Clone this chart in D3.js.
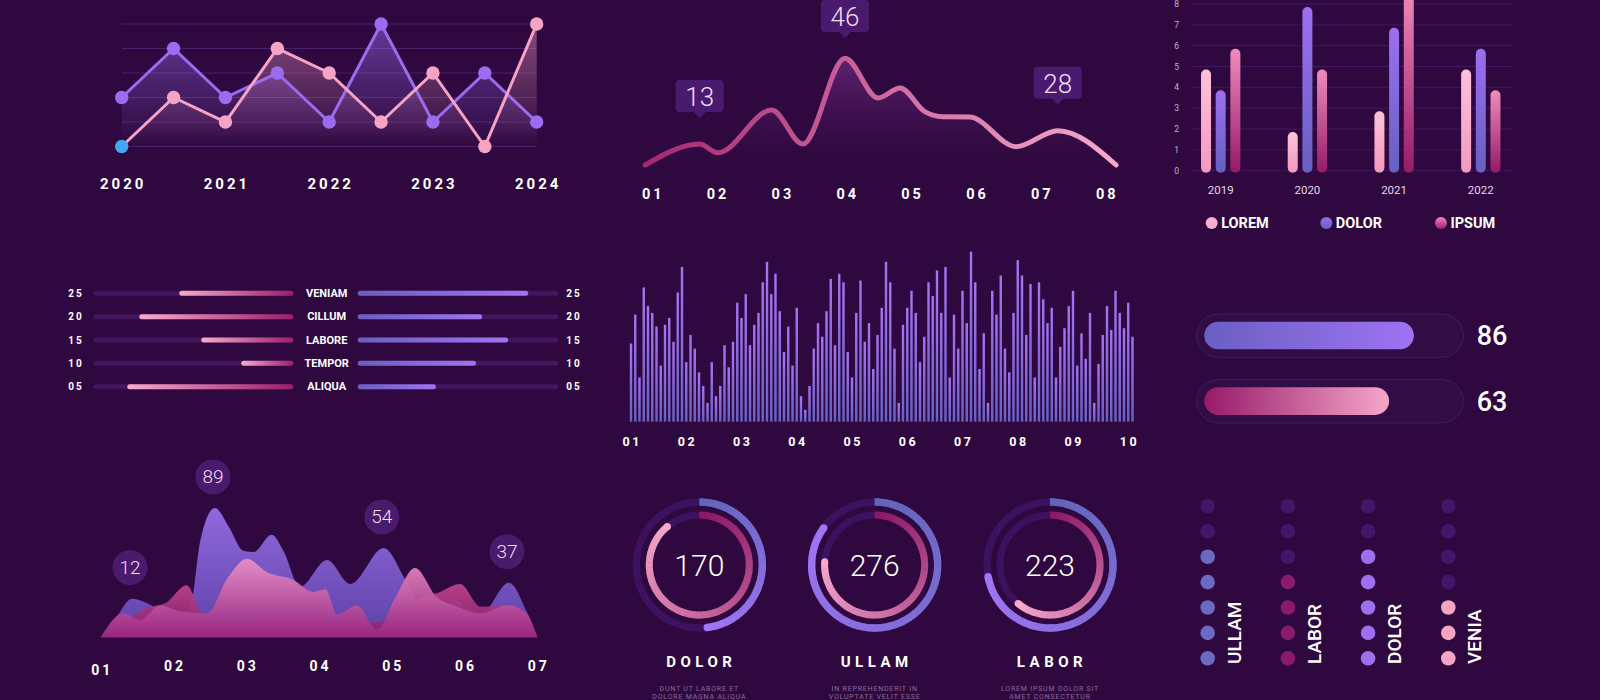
<!DOCTYPE html>
<html>
<head>
<meta charset="utf-8">
<script src="https://cdn.jsdelivr.net/npm/d3@7"></script>
<style>
  body { margin: 0; background: #2e083e; }
  svg { display: block; font-family: Roboto, "Noto Sans", sans-serif; }
</style>
</head>
<body>
<script>
// ---------- data ----------
// top left: two line series, nine steps, year ticks every other step
const lineYears = ["2020", "2021", "2022", "2023", "2024"]
const lineDolor = [2, 4, 2, 3, 1, 5, 1, 3, 1]
const lineLorem = [0, 2, 1, 4, 3, 1, 3, 0, 5]

// top middle: smooth wave
const waveTicks = ["01", "02", "03", "04", "05", "06", "07", "08"]
const waveX = [0.9, 1.74, 2.02, 2.85, 3.33, 3.98, 4.49, 4.83, 5.21, 5.49, 5.9, 6.62, 7.26, 8.16]
const waveY = [0, 9, 5.3, 23.7, 9, 46, 28.9, 33.2, 23, 20.8, 20.7, 7.9, 14.8, 0]
const waveNoteX = [1.74, 3.98, 7.26]
const waveNotes = [13, 46, 28]

// top right: grouped bars
const barYears = ["2019", "2020", "2021", "2022"]
const barSeries = ["LOREM", "DOLOR", "IPSUM"]
const barLorem = [5, 2, 3, 5]
const barDolor = [4, 8, 7, 6]
const barIpsum = [6, 5, 9, 4]

// middle left: two sided bars
const rowNames = ["VENIAM", "CILLUM", "LABORE", "TEMPOR", "ALIQUA"]
const rowTicks = ["25", "20", "15", "10", "05"]
const rowLeft = [57, 77, 46, 26, 83]
const rowRight = [85, 62, 75, 59, 39]

// middle: spectrum bars
const specTicks = ["01", "02", "03", "04", "05", "06", "07", "08", "09", "10"]
const specValues = [
  46, 63, 26, 79, 68, 64, 56, 33, 57, 61,
  47, 76, 91, 35, 51, 43, 29, 21, 11, 35,
  15, 21, 45, 32, 47, 70, 61, 75, 45, 57,
  64, 82, 94, 75, 87, 65, 41, 56, 33, 67,
  15, 7, 21, 43, 58, 50, 65, 84, 45, 87,
  82, 41, 26, 64, 83, 47, 58, 31, 51, 67,
  94, 82, 43, 11, 57, 67, 77, 64, 35, 50,
  82, 74, 89, 64, 91, 26, 63, 43, 77, 58,
  100, 82, 31, 52, 11, 77, 63, 86, 43, 29,
  64, 95, 86, 51, 81, 26, 82, 72, 58, 67,
  26, 44, 55, 68, 77, 33, 52, 37, 64, 11,
  34, 51, 68, 54, 77, 64, 55, 70, 50
]

// middle right: progress
const progValues = [86, 63]

// bottom left: three overlapping areas [step, value]
const areaTicks = ["01", "02", "03", "04", "05", "06", "07"]
const areaBack = [[1, 0], [1.2, 14], [1.43, 29], [1.77, 22], [2.0, 15], [2.23, 23], [2.37, 73], [2.57, 97], [2.76, 83], [2.96, 65], [3.1, 64], [3.35, 77], [3.51, 65], [3.74, 38], [4.11, 58], [4.43, 40], [4.89, 67], [5.19, 43], [5.53, 12], [5.85, 28], [6.22, 17], [6.61, 41], [6.85, 20], [7, 0]]
const areaMid = [[1, 0], [1.4, 14], [1.63, 22], [1.9, 26], [2.18, 39], [2.41, 16], [2.8, 10], [3.5, 12], [4.5, 10], [5.0, 14], [5.4, 30], [5.62, 33], [5.94, 40], [6.22, 23], [6.6, 24], [6.85, 16], [7, 0]]
const areaFront = [[1, 0], [1.31, 18], [1.54, 13], [1.82, 24], [2.05, 20], [2.46, 18], [2.75, 45], [3.01, 59], [3.28, 49], [3.65, 43], [3.92, 34], [4.09, 36], [4.25, 17], [4.52, 24], [4.8, 6], [5.05, 30], [5.32, 52], [5.62, 30], [5.85, 24], [6.22, 18], [6.6, 24], [6.85, 18], [7, 0]]
const areaNoteX = [1.43, 2.57, 4.89, 6.61]
const areaNotes = [12, 89, 54, 37]

// bottom middle: donuts
const donutNames = ["DOLOR", "ULLAM", "LABOR"]
const donutTotals = [170, 276, 223]
const donutOuter = [48, 85, 72]
const donutInner = [89, 76, 61]
const donutCaptions = [
  ["DUNT UT LABORE ET", "DOLORE MAGNA ALIQUA"],
  ["IN REPREHENDERIT IN", "VOLUPTATE VELIT ESSE"],
  ["LOREM IPSUM DOLOR SIT", "AMET CONSECTETUR"]
]

// bottom right: dot columns
const dotNames = ["ULLAM", "LABOR", "DOLOR", "VENIA"]
const dotActive = [5, 4, 5, 3]
const dotRows = 7

// ---------- drawing ----------
const svg = d3.select("body").append("svg").attr("width", 1600).attr("height", 700)
const defs = svg.append("defs")

function grad(id, c0, c1, o0, o1, x1, y1, x2, y2, user) {
  const g = defs.append("linearGradient").attr("id", id)
    .attr("x1", x1).attr("y1", y1).attr("x2", x2).attr("y2", y2)
  if (user) g.attr("gradientUnits", "userSpaceOnUse")
  g.append("stop").attr("offset", 0).attr("stop-color", c0).attr("stop-opacity", o0)
  g.append("stop").attr("offset", 1).attr("stop-color", c1).attr("stop-opacity", o1)
}

function boldLabel(sel, size, ls) {
  return sel.attr("fill", "#fff").attr("font-size", size).attr("font-weight", 700)
    .attr("letter-spacing", ls).attr("text-anchor", "middle").attr("dominant-baseline", "central")
}

// --- top left line chart
{
  const x = d3.scaleLinear().domain([0, lineDolor.length - 1]).range([121.7, 536.7])
  const y = d3.scaleLinear().domain([0, 5]).range([146.5, 24])
  const g = svg.append("g")
  g.selectAll("line").data(y.ticks(5)).join("line")
    .attr("x1", x(0)).attr("x2", x(8)).attr("y1", y).attr("y2", y)
    .attr("stroke", "#4d1f6c").attr("stroke-width", 1)
  grad("tlP", "#9b6cf0", "#9b6cf0", 0.5, 0, 0, y(5), 0, y(0), true)
  grad("tlK", "#f4a0c8", "#f4a0c8", 0.45, 0, 0, y(5), 0, y(0), true)
  const area = d3.area().x((d, i) => x(i)).y0(y(0)).y1(d => y(d))
  const line = d3.line().x((d, i) => x(i)).y(d => y(d))
  g.append("path").attr("d", area(lineDolor)).attr("fill", "url(#tlP)")
  g.append("path").attr("d", area(lineLorem)).attr("fill", "url(#tlK)")
  g.append("path").attr("d", line(lineDolor)).attr("fill", "none").attr("stroke", "#9b6cf0").attr("stroke-width", 3)
  g.append("path").attr("d", line(lineLorem)).attr("fill", "none").attr("stroke", "#f6a3c6").attr("stroke-width", 3)
  g.selectAll("circle.d").data(lineDolor).join("circle")
    .attr("cx", (d, i) => x(i)).attr("cy", y).attr("r", 6.7).attr("fill", "#9b6cf0")
  g.selectAll("circle.l").data(lineLorem).join("circle")
    .attr("cx", (d, i) => x(i)).attr("cy", y).attr("r", 6.7)
    .attr("fill", (d, i) => i === 0 ? "#3fa8ef" : "#f6a3c6")
  boldLabel(g.selectAll("text").data(lineYears).join("text"), 15, 3)
    .attr("x", (d, i) => x(i * 2) + 1.5).attr("y", 184).text(d => d)
}

// --- top middle wave
{
  const x = d3.scaleLinear().domain([1, 8]).range([651.7, 1105.7])
  const y = d3.scaleLinear().domain([0, 46]).range([165, 58.3])
  const g = svg.append("g")
  const pts = waveX.map((d, i) => [d, waveY[i]])
  grad("tmA", "#7e318c", "#4a1460", 0.65, 0, 0, y(46), 0, y(0), true)
  grad("tmL", "#a52872", "#f6aacd", 1, 1, x(0.9), 0, x(8.16), 0, true)
  g.append("path")
    .attr("d", d3.area().curve(d3.curveMonotoneX).x(d => x(d[0])).y0(y(0)).y1(d => y(d[1]))(pts))
    .attr("fill", "url(#tmA)")
  g.append("path")
    .attr("d", d3.line().curve(d3.curveMonotoneX).x(d => x(d[0])).y(d => y(d[1]))(pts))
    .attr("fill", "none").attr("stroke", "url(#tmL)").attr("stroke-width", 5).attr("stroke-linecap", "round")
  const notes = g.selectAll("g.note").data(waveNotes).join("g")
    .attr("transform", (d, i) => {
      const cx = x(waveNoteX[i])
      const tip = y(waveY[waveX.indexOf(waveNoteX[i])]) - 26
      const top = Math.max(0, tip - 38)
      return `translate(${cx},${top})`
    })
  notes.append("path").attr("d", "M-24,4 Q-24,0 -20,0 L20,0 Q24,0 24,4 L24,28 Q24,32 20,32 L6,32 L0,38 L-6,32 L-20,32 Q-24,32 -24,28 Z")
    .attr("fill", "#4a1a6e")
  notes.append("text").attr("y", 17).attr("text-anchor", "middle").attr("dominant-baseline", "central")
    .attr("fill", "#f2ddf4").attr("font-size", 26).attr("font-weight", 300).text(d => d)
  boldLabel(g.selectAll("text.t").data(waveTicks).join("text").attr("class", "t"), 14.5, 3)
    .attr("x", (d, i) => x(i + 1) + 1.5).attr("y", 194).text(d => d)
}

// --- top right grouped bars
{
  const x = d3.scaleBand().domain(barYears).range([1177.35, 1524.15])
  const xs = d3.scaleBand().domain(barSeries).range([-22, 22])
  const y = d3.scaleLinear().domain([0, 8]).range([170.7, 4])
  const g = svg.append("g")
  g.selectAll("line").data(y.ticks(8)).join("line")
    .attr("x1", 1191.7).attr("x2", 1513.3).attr("y1", y).attr("y2", y)
    .attr("stroke", "#431660").attr("stroke-width", 1)
  g.selectAll("text.y").data(y.ticks(8)).join("text").attr("class", "y")
    .attr("x", 1176.7).attr("y", y).attr("text-anchor", "middle").attr("dominant-baseline", "central")
    .attr("fill", "#c8b0d4").attr("font-size", 8.5).text(d => d)
  grad("brL", "#fbc3da", "#f597bf", 1, 1, 0, 0, 0, 1)
  grad("brD", "#9c6ff2", "#6660c0", 1, 1, 0, 0, 0, 1)
  grad("brI", "#f08cbc", "#951a69", 1, 1, 0, 0, 0, 1)
  const fills = { LOREM: "url(#brL)", DOLOR: "url(#brD)", IPSUM: "url(#brI)" }
  const vals = { LOREM: barLorem, DOLOR: barDolor, IPSUM: barIpsum }
  barSeries.forEach(s => {
    g.selectAll(null).data(vals[s]).join("rect")
      .attr("x", (d, i) => x(barYears[i]) + x.bandwidth() / 2 + xs(s) + xs.bandwidth() / 2 - 5)
      .attr("y", d => y(d) + 3).attr("width", 10).attr("height", d => y(0) - y(d) - 1)
      .attr("rx", 5).attr("fill", fills[s])
  })
  g.selectAll("text.x").data(barYears).join("text").attr("class", "x")
    .attr("x", d => x(d) + x.bandwidth() / 2).attr("y", 190).attr("text-anchor", "middle")
    .attr("dominant-baseline", "central").attr("fill", "#e8d4ec").attr("font-size", 11.5).text(d => d)
  const lx = d3.scalePoint().domain(barSeries).range([1211.7, 1441])
  grad("lgD", "#8f70ea", "#6a60c6", 1, 1, 0, 0, 0, 1)
  grad("lgI", "#ee86b8", "#9a2070", 1, 1, 0, 0, 0, 1)
  const lfill = { LOREM: "#f8aed0", DOLOR: "url(#lgD)", IPSUM: "url(#lgI)" }
  const lg = g.selectAll("g.lg").data(barSeries).join("g").attr("transform", d => `translate(${lx(d)},223)`)
  lg.append("circle").attr("r", 6).attr("fill", d => lfill[d])
  lg.append("text").attr("x", 9.5).attr("dominant-baseline", "central").attr("fill", "#fff")
    .attr("font-size", 14.5).attr("font-weight", 700).text(d => d)
}

// --- middle left two sided bars
{
  const y = d3.scalePoint().domain(rowNames).range([293.3, 386.7])
  const xl = d3.scaleLinear().domain([0, 100]).range([293.3, 93.3])
  const xr = d3.scaleLinear().domain([0, 100]).range([357.7, 558.3])
  const g = svg.append("g")
  grad("mlL", "#f8aacb", "#9b1e6a", 1, 1, 0, 0, 1, 0)
  grad("mlR", "#6a5fc2", "#9f73f2", 1, 1, 0, 0, 1, 0)
  const h = 5
  g.selectAll("rect.tl").data(rowNames).join("rect")
    .attr("x", xl(100)).attr("width", xl(0) - xl(100)).attr("y", d => y(d) - h / 2).attr("height", h)
    .attr("rx", h / 2).attr("fill", "#43155f")
  g.selectAll("rect.tr").data(rowNames).join("rect")
    .attr("x", xr(0)).attr("width", xr(100) - xr(0)).attr("y", d => y(d) - h / 2).attr("height", h)
    .attr("rx", h / 2).attr("fill", "#43155f")
  g.selectAll("rect.bl").data(rowLeft).join("rect")
    .attr("x", d => xl(d)).attr("width", d => xl(0) - xl(d)).attr("y", (d, i) => y(rowNames[i]) - h / 2)
    .attr("height", h).attr("rx", h / 2).attr("fill", "url(#mlL)")
  g.selectAll("rect.br").data(rowRight).join("rect")
    .attr("x", xr(0)).attr("width", d => xr(d) - xr(0)).attr("y", (d, i) => y(rowNames[i]) - h / 2)
    .attr("height", h).attr("rx", h / 2).attr("fill", "url(#mlR)")
  boldLabel(g.selectAll("text.n").data(rowNames).join("text").attr("class", "n"), 11, 0)
    .attr("x", 326.7).attr("y", y).text(d => d)
  boldLabel(g.selectAll("text.a").data(rowTicks).join("text").attr("class", "a"), 10, 2)
    .attr("x", 76).attr("y", (d, i) => y(rowNames[i])).text(d => d)
  boldLabel(g.selectAll("text.b").data(rowTicks).join("text").attr("class", "b"), 10, 2)
    .attr("x", 574).attr("y", (d, i) => y(rowNames[i])).text(d => d)
}

// --- middle spectrum
{
  const x = d3.scaleLinear().domain([0, specValues.length - 1]).range([631, 1132.5])
  const y = d3.scaleLinear().domain([0, 100]).range([421.7, 251.7])
  const g = svg.append("g")
  grad("sp", "#a674f4", "#6862c6", 1, 1, 0, 0, 0, 1)
  g.selectAll("rect").data(specValues).join("rect")
    .attr("x", (d, i) => x(i) - 1.2).attr("width", 2.4)
    .attr("y", y).attr("height", d => y(0) - y(d)).attr("fill", "url(#sp)")
  boldLabel(g.selectAll("text").data(specTicks).join("text"), 12.5, 2.5)
    .attr("x", (d, i) => x(i * 13) + 1.2).attr("y", 441).text(d => d)
}

// --- middle right progress
{
  const w = d3.scaleLinear().domain([0, 100]).range([117, 224.6])
  const y = d3.scaleLinear().domain([0, 1]).range([314, 379.6])
  const g = svg.append("g")
  grad("pg0", "#6a5fc2", "#9e73f3", 1, 1, 0, 0, 1, 0)
  grad("pg1", "#961a69", "#f6a6c9", 1, 1, 0, 0, 1, 0)
  const row = g.selectAll("g").data(progValues).join("g").attr("transform", (d, i) => `translate(1196.7,${y(i)})`)
  row.append("rect").attr("width", 266.6).attr("height", 43.3).attr("rx", 21.65)
    .attr("fill", "#320c44").attr("stroke", "#471a64").attr("stroke-width", 1)
  row.append("rect").attr("x", 7.6).attr("y", 7.7).attr("width", d => w(d)).attr("height", 27.6).attr("rx", 13.8)
    .attr("fill", (d, i) => `url(#pg${i})`)
  row.append("text").attr("x", 280).attr("y", 22).attr("dominant-baseline", "central")
    .attr("fill", "#fff").attr("font-size", 27).attr("font-weight", 500).text(d => d)
}

// --- bottom left areas
{
  const x = d3.scaleLinear().domain([1, 7]).range([100.7, 537.3])
  const y = d3.scaleLinear().domain([0, 100]).range([637.3, 504])
  const g = svg.append("g")
  grad("baA", "#9069de", "#5e40a6", 1, 1, 0, y(97), 0, y(0), true)
  grad("baB", "#c0458c", "#861c6a", 1, 1, 0, y(40), 0, y(0), true)
  grad("baC", "#ec92c6", "#9a2580", 1, 1, 0, y(59), 0, y(0), true)
  const area = d3.area().curve(d3.curveMonotoneX).x(d => x(d[0])).y0(y(0)).y1(d => y(d[1]))
  g.append("path").attr("d", area(areaBack)).attr("fill", "url(#baA)")
  g.append("path").attr("d", area(areaMid)).attr("fill", "url(#baB)").attr("opacity", 0.92)
  g.append("path").attr("d", area(areaFront)).attr("fill", "url(#baC)").attr("opacity", 0.92)
  const notes = g.selectAll("g.note").data(areaNotes).join("g")
    .attr("transform", (d, i) => {
      const p = areaBack.find(q => q[0] === areaNoteX[i])
      return `translate(${x(p[0]) - 2},${y(p[1]) - 31})`
    })
  notes.append("circle").attr("r", 17.5).attr("fill", "#4a1a6c")
  notes.append("text").attr("text-anchor", "middle").attr("dominant-baseline", "central")
    .attr("fill", "#f2def4").attr("font-size", 19).attr("font-weight", 300).text(d => d)
  boldLabel(g.selectAll("text.t").data(areaTicks).join("text").attr("class", "t"), 14, 3)
    .attr("x", (d, i) => x(i + 1) + 1.5).attr("y", (d, i) => i === 0 ? 670 : 666).text(d => d)
}

// --- donuts
{
  const cx = d3.scalePoint().domain(donutNames).range([699.3, 1050])
  const arc = d3.arc()
  const g = svg.append("g")
  function ring(p, r0, r1, frac, c0, c1) {
    p.append("path").attr("d", arc({ innerRadius: r0, outerRadius: r1, startAngle: 0, endAngle: 2 * Math.PI }))
      .attr("fill", "#3c1160")
    const end = frac * 2 * Math.PI, n = Math.ceil(frac * 180)
    const col = d3.interpolateRgb(c0, c1)
    for (let i = 0; i < n; i++) {
      p.append("path")
        .attr("d", arc({ innerRadius: r0, outerRadius: r1, startAngle: end * i / n, endAngle: Math.min(end, end * (i + 1) / n + 0.01) }))
        .attr("fill", col((i + 0.5) / n))
    }
    const rm = (r0 + r1) / 2
    p.append("circle").attr("cx", rm * Math.sin(end)).attr("cy", -rm * Math.cos(end)).attr("r", (r1 - r0) / 2).attr("fill", c1)
  }
  donutNames.forEach((name, i) => {
    const p = g.append("g").attr("transform", `translate(${cx(name)},565)`)
    ring(p, 59.3, 66.7, donutOuter[i] / 100, "#6165bc", "#a275f5")
    ring(p, 46.5, 53.5, donutInner[i] / 100, "#8c1666", "#f7aacc")
    p.append("text").attr("text-anchor", "middle").attr("dominant-baseline", "central")
      .attr("fill", "#fff").attr("font-size", 30).attr("font-weight", 300).text(donutTotals[i])
    boldLabel(p.append("text"), 15, 4.5).attr("x", 2).attr("y", 96.7).text(name)
    p.selectAll("text.c").data(donutCaptions[i]).join("text").attr("class", "c")
      .attr("x", 0).attr("y", (d, j) => 124.3 + j * 8).attr("text-anchor", "middle")
      .attr("dominant-baseline", "central").attr("fill", "#8d6b9e").attr("font-size", 7)
      .attr("letter-spacing", 0.8).text(d => d)
  })
}

// --- dot columns
{
  const x = d3.scalePoint().domain(dotNames).range([1207.7, 1448.3])
  const y = d3.scaleLinear().domain([0, dotRows - 1]).range([506, 658.3])
  const colors = ["#6b69c2", "#8a1a6e", "#9c70f0", "#f7a3c4"]
  const g = svg.append("g")
  dotNames.forEach((name, c) => {
    g.selectAll(null).data(d3.range(dotRows)).join("circle")
      .attr("cx", x(name)).attr("cy", y).attr("r", 7.3)
      .attr("fill", r => r >= dotRows - dotActive[c] ? colors[c] : "#43166a")
    g.append("text").attr("transform", `translate(${x(name) + 26.5},664) rotate(-90)`)
      .attr("dominant-baseline", "central").attr("fill", "#fff")
      .attr("font-size", 19).attr("font-weight", 500).text(name)
  })
}
</script>
</body>
</html>
